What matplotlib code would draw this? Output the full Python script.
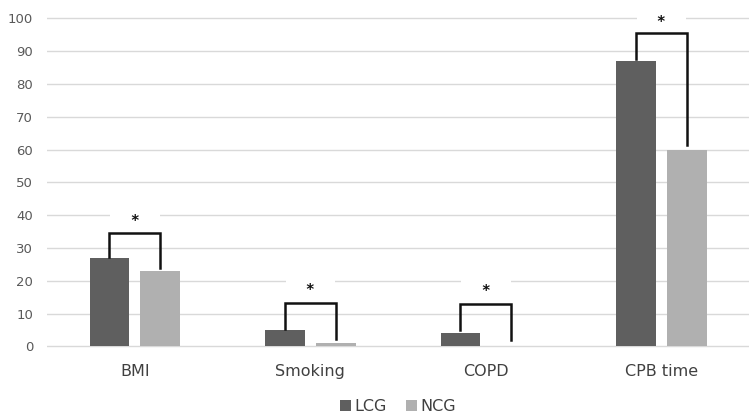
import matplotlib.pyplot as plt
import numpy as np

categories = ["BMI", "Smoking", "COPD", "CPB time"]
lcg = [27, 5, 4, 87]
ncg = [23, 1, 0, 60]
yticks = list(range(0, 101, 10))

# bracket heights (top, left leg end, right leg end) and star height
bracket_top = [34.7, 13.4, 12.8, 95.4]
left_end = [27.4, 5.2, 4.9, 87.5]
right_end = [24.0, 2.4, 2.1, 61.4]
star_y = [38.2, 17.0, 16.8, 98.8]

fig = plt.figure(figsize=(7.51, 4.17), dpi=100)
ax = fig.add_axes([0.0626, 0.166, 0.935, 0.793])

x = np.arange(len(categories))
off = 0.145
w = 0.225
ax.bar(x - off, lcg, w, color="#5f5f5f", label="LCG", zorder=3)
ax.bar(x + off, ncg, w, color="#b0b0b0", label="NCG", zorder=3)

for i in range(len(categories)):
    xl, xr = x[i] - off, x[i] + off
    ax.plot([xl, xl, xr, xr], [left_end[i], bracket_top[i], bracket_top[i], right_end[i]],
            color="#111111", lw=1.8, solid_joinstyle="miter", zorder=5)
    # white box behind the star only hides the gridline
    ax.text(x[i], star_y[i], "   *   ", ha="center", va="center", fontsize=10.5,
            fontweight="bold", color="#111111",
            bbox=dict(facecolor="white", edgecolor="none", pad=4), zorder=4)

ax.set_xlim(-0.5, 3.5)
ax.set_ylim(-0.4, 100.4)
ax.set_yticks(yticks)
ax.set_xticks(x)
ax.set_xticklabels(categories, fontsize=11.5, color="#404040")
ax.tick_params(axis="y", labelsize=9.5, colors="#595959", length=0, pad=10)
ax.tick_params(axis="x", length=0, pad=12)
ax.grid(axis="y", color="#d9d9d9", lw=1, zorder=0)
for s in ax.spines.values():
    s.set_visible(False)

fig.legend(loc="center", bbox_to_anchor=(0.53, 0.025), ncol=2, frameon=False,
           fontsize=11.5, handlelength=0.7, handleheight=0.7, handletextpad=0.2,
           columnspacing=1.2, labelcolor="#404040")

fig.savefig("out.png", dpi=100)
